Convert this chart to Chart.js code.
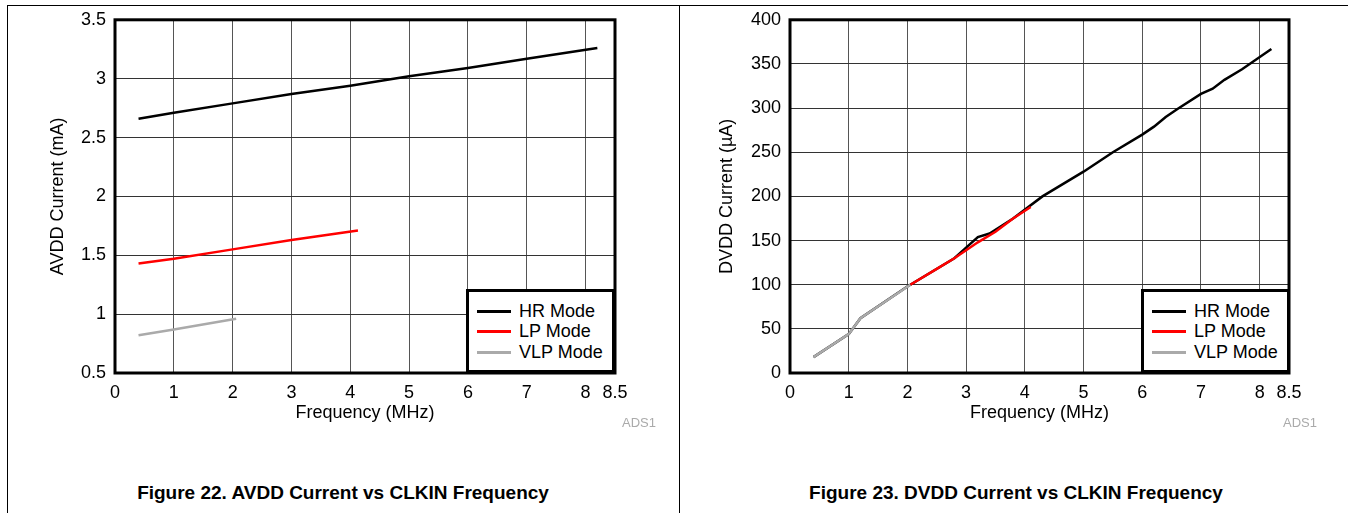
<!DOCTYPE html>
<html>
<head>
<meta charset="utf-8">
<script src="https://cdn.jsdelivr.net/npm/chart.js@4"></script>
<style>
    body { margin: 0; background: #fff; font-family: "Liberation Sans", Arial, sans-serif; }
    #page { position: relative; width: 1351px; height: 513px; overflow: hidden; background: #fff; }
    canvas { position: absolute; top: 0; }
    .rule { position: absolute; background: #000; }
    .legend { position: absolute; top: 289px; width: 149px; height: 84px; box-sizing: border-box;
              border: 3px solid #000; background: #fff; padding: 9px 0 0 8px; }
    .legend .row { height: 20.5px; display: flex; align-items: center; font-size: 18px; color: #000; white-space: nowrap; }
    .legend .swatch { display: inline-block; width: 34px; height: 3px; margin-right: 8px; flex: none; }
    .tag { position: absolute; top: 415px; font-size: 13px; color: #aaa; }
    .caption { position: absolute; top: 482px; width: 600px; text-align: center; font-weight: bold; font-size: 19px; }
</style>
</head>
<body>
<div id="page">
    <canvas id="avddChart" width="679" height="430" style="left:0"></canvas>
    <canvas id="dvddChart" width="671" height="430" style="left:680px"></canvas>

    <div class="rule" style="left:7px; top:5px; width:1px; height:508px"></div>
    <div class="rule" style="left:7px; top:5px; width:1341px; height:1px"></div>
    <div class="rule" style="left:679px; top:5px; width:1px; height:508px"></div>

    <div class="legend" id="avddLegend" style="left:466px"></div>
    <div class="legend" id="dvddLegend" style="left:1141px"></div>

    <div class="tag" style="left:622px">ADS1</div>
    <div class="tag" style="left:1283px">ADS1</div>

    <div class="caption" style="left:43px">Figure 22. AVDD Current vs CLKIN Frequency</div>
    <div class="caption" style="left:716px">Figure 23. DVDD Current vs CLKIN Frequency</div>
</div>

<script>
// frequency tick marks (MHz), shared by both plots
const freqTicks = [0, 1, 2, 3, 4, 5, 6, 7, 8, 8.5];

// Figure 22: AVDD current (mA)
const avddHrFreq = [0.4, 1, 2, 3, 4, 5, 6, 7, 8.2];
const avddHr = [2.66, 2.71, 2.79, 2.87, 2.94, 3.02, 3.09, 3.17, 3.26];
const avddLpFreq = [0.4, 1, 2, 3, 4.13];
const avddLp = [1.43, 1.47, 1.55, 1.63, 1.71];
const avddVlpFreq = [0.4, 1, 2.06];
const avddVlp = [0.82, 0.87, 0.96];
const avddTicks = [0.5, 1, 1.5, 2, 2.5, 3, 3.5];

// Figure 23: DVDD current (uA)
const dvddHrFreq = [0.4, 1, 1.2, 2, 2.8, 3, 3.2, 3.4, 3.8, 4.3, 5, 5.5, 6, 6.2, 6.4, 6.6, 7, 7.2, 7.4, 7.7, 8.2];
const dvddHr = [18, 44, 62, 98, 130, 142, 154, 158, 175, 200, 228, 250, 270, 279, 290, 299, 316, 322, 332, 344, 367];
const dvddLpFreq = [2.05, 2.5, 2.8, 3.2, 3.5, 3.8, 4.1];
const dvddLp = [100, 118, 130, 148, 160, 175, 188];
const dvddVlpFreq = [0.4, 1, 1.2, 2.05];
const dvddVlp = [18, 44, 62, 100];
const dvddTicks = [0, 50, 100, 150, 200, 250, 300, 350, 400];

const modeNames = ["HR Mode", "LP Mode", "VLP Mode"];
const modeColors = ["#000000", "#ff0000", "#aaaaaa"];

Chart.defaults.font.family = '"Liberation Sans", Arial, sans-serif';
Chart.defaults.color = "#000";

const plotFrame = {
    id: "plotFrame",
    afterDraw(chart) {
        const { ctx, chartArea: a } = chart;
        ctx.save();
        ctx.strokeStyle = "#000";
        ctx.lineWidth = 3;
        ctx.strokeRect(a.left, a.top, a.right - a.left, a.bottom - a.top);
        ctx.restore();
    }
};

function toPoints(xs, ys) {
    return xs.map((x, i) => ({ x, y: ys[i] }));
}

function buildLegend(divId) {
    const box = document.getElementById(divId);
    modeNames.forEach((name, i) => {
        const row = document.createElement("div");
        row.className = "row";
        row.innerHTML = '<span class="swatch" style="background:' + modeColors[i] + '"></span>' + name;
        box.appendChild(row);
    });
}

function drawPlot(canvasId, series, yTicks, yTitle, axisWidth, titlePad, padRight) {
    const ctx = document.getElementById(canvasId).getContext("2d");
    new Chart(ctx, {
        type: "line",
        data: {
            datasets: series.map((s, i) => ({
                label: modeNames[i],
                data: s,
                borderColor: modeColors[i],
                borderWidth: 2.5,
                pointRadius: 0,
                fill: false,
                order: 3 - i
            }))
        },
        options: {
            responsive: false,
            animation: false,
            layout: { padding: { top: 19, right: padRight, left: 0, bottom: 0 } },
            plugins: { legend: { display: false }, tooltip: { enabled: false } },
            scales: {
                x: {
                    type: "linear",
                    min: 0,
                    max: 8.5,
                    afterBuildTicks: axis => { axis.ticks = freqTicks.map(v => ({ value: v })); },
                    afterFit: axis => { axis.height = 57; },
                    grid: { color: "#555", drawTicks: false },
                    border: { display: false },
                    ticks: { font: { size: 18 }, padding: 9, autoSkip: false, maxRotation: 0, callback: v => String(v) },
                    title: { display: true, text: "Frequency (MHz)", font: { size: 18 }, padding: { top: 0, bottom: 6 } }
                },
                y: {
                    type: "linear",
                    min: yTicks[0],
                    max: yTicks[yTicks.length - 1],
                    afterBuildTicks: axis => { axis.ticks = yTicks.map(v => ({ value: v })); },
                    afterFit: axis => { axis.width = axisWidth; },
                    grid: { color: "#333", drawTicks: false },
                    border: { display: false },
                    ticks: { font: { size: 18 }, padding: 9, callback: v => String(v) },
                    title: { display: true, text: yTitle, font: { size: 18 }, padding: { top: titlePad, bottom: 0 } }
                }
            }
        },
        plugins: [plotFrame]
    });
}

drawPlot("avddChart",
    [toPoints(avddHrFreq, avddHr), toPoints(avddLpFreq, avddLp), toPoints(avddVlpFreq, avddVlp)],
    avddTicks, "AVDD Current (mA)", 115, 47, 64);

drawPlot("dvddChart",
    [toPoints(dvddHrFreq, dvddHr), toPoints(dvddLpFreq, dvddLp), toPoints(dvddVlpFreq, dvddVlp)],
    dvddTicks, "DVDD Current (\u00b5A)", 110, 36, 62);

buildLegend("avddLegend");
buildLegend("dvddLegend");
</script>
</body>
</html>
